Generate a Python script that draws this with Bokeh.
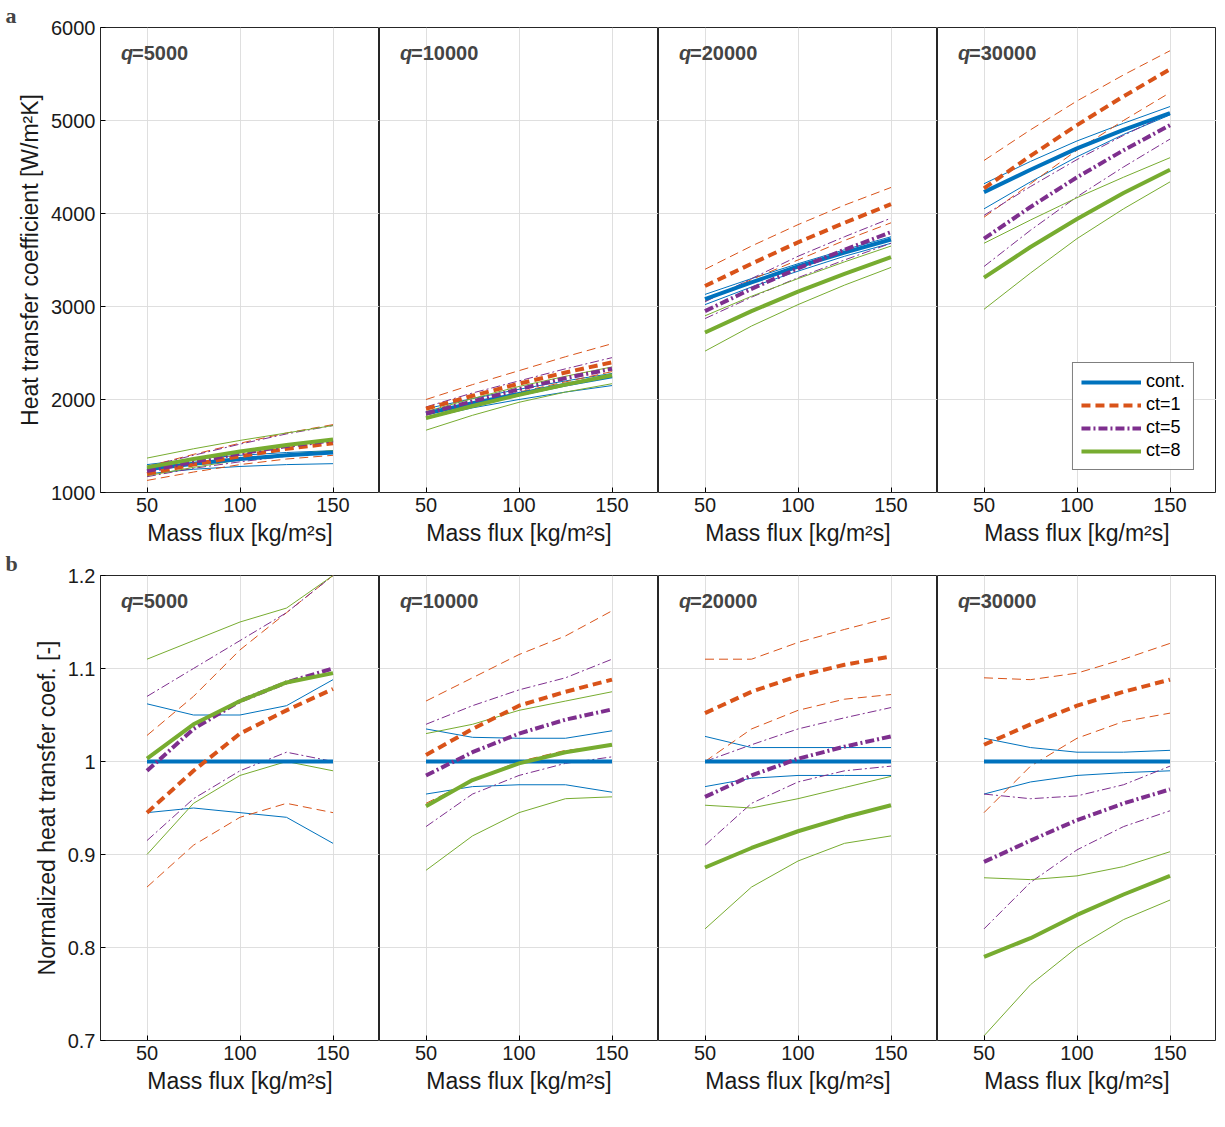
import numpy as np
from bokeh.plotting import figure
from bokeh.layouts import gridplot
from bokeh.models import Range1d, FixedTicker, NumeralTickFormatter, Label, Legend, LegendItem
from bokeh.embed import file_html
from bokeh.resources import INLINE

G = [50, 75, 100, 125, 150]
q_labels = ["5000", "10000", "20000", "30000"]
series = ["cont.", "ct=1", "ct=5", "ct=8"]

# heat transfer coefficient: per q, per series -> (center, upper, lower)
htc = {
    "5000": {
        "cont.": ([1250, 1310, 1360, 1400, 1430], [1300, 1360, 1400, 1430, 1450], [1200, 1250, 1280, 1300, 1310]),
        "ct=1": ([1200, 1300, 1390, 1470, 1530], [1280, 1410, 1530, 1640, 1730], [1130, 1220, 1300, 1360, 1400]),
        "ct=5": ([1230, 1330, 1420, 1500, 1560], [1280, 1400, 1520, 1630, 1720], [1170, 1260, 1330, 1390, 1430]),
        "ct=8": ([1270, 1360, 1440, 1510, 1570], [1370, 1470, 1560, 1640, 1720], [1180, 1270, 1350, 1410, 1450]),
    },
    "10000": {
        "cont.": ([1850, 1960, 2060, 2160, 2250], [1900, 2010, 2110, 2200, 2280], [1800, 1910, 2000, 2080, 2150]),
        "ct=1": ([1900, 2040, 2170, 2290, 2400], [2000, 2160, 2310, 2460, 2600], [1830, 1960, 2080, 2190, 2300]),
        "ct=5": ([1850, 1980, 2110, 2230, 2330], [1920, 2070, 2200, 2330, 2450], [1790, 1920, 2040, 2150, 2250]),
        "ct=8": ([1800, 1930, 2050, 2160, 2260], [1870, 2010, 2140, 2250, 2350], [1670, 1830, 1970, 2080, 2170]),
    },
    "20000": {
        "cont.": ([3080, 3260, 3430, 3580, 3720], [3130, 3300, 3460, 3610, 3750], [3020, 3210, 3380, 3540, 3680]),
        "ct=1": ([3220, 3460, 3690, 3900, 4100], [3400, 3650, 3880, 4090, 4280], [3060, 3290, 3500, 3710, 3900]),
        "ct=5": ([2950, 3190, 3410, 3610, 3800], [3050, 3300, 3540, 3750, 3950], [2870, 3100, 3310, 3500, 3680]),
        "ct=8": ([2720, 2950, 3160, 3350, 3530], [2900, 3110, 3300, 3480, 3650], [2520, 2790, 3020, 3230, 3420]),
    },
    "30000": {
        "cont.": ([4230, 4470, 4700, 4900, 5080], [4320, 4560, 4780, 4970, 5150], [4050, 4340, 4610, 4850, 5060]),
        "ct=1": ([4270, 4620, 4950, 5260, 5550], [4570, 4900, 5210, 5490, 5750], [3960, 4320, 4680, 5000, 5300]),
        "ct=5": ([3730, 4070, 4390, 4680, 4950], [3980, 4290, 4580, 4840, 5080], [3430, 3820, 4180, 4500, 4800]),
        "ct=8": ([3310, 3640, 3940, 4220, 4470], [3680, 3930, 4170, 4390, 4600], [2970, 3360, 3730, 4050, 4340]),
    },
}

# normalized heat transfer coefficient
norm = {
    "5000": {
        "cont.": ([1, 1, 1, 1, 1], [1.062, 1.05, 1.05, 1.06, 1.088], [0.945, 0.95, 0.945, 0.94, 0.912]),
        "ct=1": ([0.945, 0.99, 1.03, 1.055, 1.078], [1.028, 1.07, 1.12, 1.16, 1.2], [0.865, 0.91, 0.94, 0.955, 0.945]),
        "ct=5": ([0.99, 1.035, 1.065, 1.085, 1.1], [1.07, 1.1, 1.13, 1.16, 1.2], [0.915, 0.96, 0.99, 1.01, 1.0]),
        "ct=8": ([1.003, 1.04, 1.065, 1.085, 1.095], [1.11, 1.13, 1.15, 1.165, 1.2], [0.9, 0.955, 0.985, 1.0, 0.99]),
    },
    "10000": {
        "cont.": ([1, 1, 1, 1, 1], [1.035, 1.026, 1.025, 1.025, 1.033], [0.965, 0.973, 0.975, 0.975, 0.967]),
        "ct=1": ([1.007, 1.035, 1.06, 1.075, 1.088], [1.065, 1.09, 1.115, 1.135, 1.162], [0.955, 0.98, 1.0, 1.012, 1.017]),
        "ct=5": ([0.985, 1.01, 1.03, 1.045, 1.056], [1.04, 1.06, 1.077, 1.09, 1.11], [0.93, 0.965, 0.985, 0.998, 1.005]),
        "ct=8": ([0.952, 0.98, 0.998, 1.01, 1.018], [1.03, 1.04, 1.055, 1.065, 1.075], [0.883, 0.92, 0.945, 0.96, 0.962]),
    },
    "20000": {
        "cont.": ([1, 1, 1, 1, 1], [1.027, 1.015, 1.015, 1.015, 1.015], [0.973, 0.982, 0.985, 0.985, 0.985]),
        "ct=1": ([1.052, 1.075, 1.092, 1.104, 1.113], [1.11, 1.11, 1.128, 1.142, 1.155], [1.0, 1.035, 1.055, 1.067, 1.072]),
        "ct=5": ([0.962, 0.985, 1.003, 1.016, 1.027], [1.0, 1.018, 1.035, 1.047, 1.058], [0.91, 0.955, 0.978, 0.99, 0.995]),
        "ct=8": ([0.886, 0.907, 0.925, 0.94, 0.953], [0.953, 0.95, 0.96, 0.972, 0.984], [0.82, 0.865, 0.893, 0.912, 0.92]),
    },
    "30000": {
        "cont.": ([1, 1, 1, 1, 1], [1.025, 1.015, 1.01, 1.01, 1.012], [0.965, 0.978, 0.985, 0.988, 0.99]),
        "ct=1": ([1.018, 1.04, 1.06, 1.075, 1.088], [1.09, 1.088, 1.095, 1.11, 1.127], [0.945, 0.995, 1.025, 1.043, 1.052]),
        "ct=5": ([0.892, 0.915, 0.937, 0.955, 0.97], [0.965, 0.96, 0.963, 0.975, 0.995], [0.82, 0.87, 0.905, 0.93, 0.947]),
        "ct=8": ([0.79, 0.81, 0.835, 0.857, 0.877], [0.875, 0.873, 0.877, 0.887, 0.903], [0.705, 0.76, 0.8, 0.83, 0.851]),
    },
}

colors = {"cont.": "#0072BD", "ct=1": "#D95319", "ct=5": "#7E2F8E", "ct=8": "#77AC30"}
dashes = {"cont.": "solid", "ct=1": "9 5", "ct=5": "9 3 2 3", "ct=8": "solid"}
FONT = "Liberation Sans"

def make_panel(data, q, col, row):
    left = col == 0
    p = figure(frame_width=279, frame_height=465,
               min_border_left=100 if left else 0, min_border_right=0,
               min_border_top=0 if row == 0 else 8, min_border_bottom=0,
               x_range=Range1d(25, 175),
               y_range=Range1d(1000, 6000) if row == 0 else Range1d(0.7, 1.2),
               output_backend="svg", toolbar_location=None,
               title="a" if (left and row == 0) else ("b" if left else " "))
    p.title.text_font = "Liberation Serif"
    p.title.text_font_style = "bold"
    p.title.text_font_size = "22px"
    p.title.offset = -95 if left else 0
    p.title.standoff = 0
    p.title.padding = 0
    p.outline_line_color = "black"
    p.outline_line_alpha = 0.85
    p.background_fill_color = "white"
    p.xaxis.ticker = FixedTicker(ticks=[50, 100, 150])
    p.xaxis.axis_label = "Mass flux [kg/m²s]"
    if row == 0:
        p.yaxis.ticker = FixedTicker(ticks=[1000, 2000, 3000, 4000, 5000, 6000])
        p.yaxis.axis_label = "Heat transfer coefficient [W/m²K]"
    else:
        p.yaxis.ticker = FixedTicker(ticks=[0.7, 0.8, 0.9, 1.0, 1.1, 1.2])
        p.yaxis.formatter = NumeralTickFormatter(format="0.[0]")
        p.yaxis.axis_label = "Normalized heat transfer coef. [-]"
    for ax in (p.xaxis, p.yaxis):
        ax.axis_line_color = None
        ax.major_tick_in = 5
        ax.major_tick_out = 0
        ax.minor_tick_line_color = None
        ax.major_label_text_font = FONT
        ax.major_label_text_font_size = "20px"
        ax.major_label_text_color = "#1a1a1a"
        ax.axis_label_text_font = FONT
        ax.axis_label_text_font_size = "23px"
        ax.axis_label_text_font_style = "normal"
        ax.axis_label_text_color = "#1a1a1a"
    if not left:
        p.yaxis.visible = False
    p.grid.grid_line_color = "#dcdcdc"
    p.grid.grid_line_alpha = 0.9

    centers = {}
    for s in series:
        c, u, l = data[q][s]
        for yv in (u, l):
            p.line(G, yv, line_color=colors[s], line_width=1, line_dash=dashes[s])
    for s in series:
        c = data[q][s][0]
        centers[s] = p.line(G, c, line_color=colors[s], line_width=4, line_dash=dashes[s])

    ytop = 6000 if row == 0 else 1.2
    p.add_layout(Label(x=36, y=ytop, y_offset=-36, text="q", text_font=FONT,
                       text_font_style="bold italic", text_font_size="20px"))
    p.add_layout(Label(x=36, y=ytop, x_offset=11, y_offset=-36, text="=" + q, text_font=FONT,
                       text_font_style="bold", text_font_size="20px"))

    if row == 0 and col == 3:
        legend = Legend(items=[LegendItem(label=s, renderers=[centers[s]]) for s in series],
                        location="bottom_right")
        legend.label_text_font = FONT
        legend.label_text_font_size = "18px"
        legend.label_text_color = "black"
        legend.glyph_width = 60
        legend.border_line_color = "black"
        legend.spacing = 2
        legend.padding = 8
        legend.margin = 22
        p.add_layout(legend)
    return p

grid = []
for row, data in enumerate([htc, norm]):
    grid.append([make_panel(data, q, col, row) for col, q in enumerate(q_labels)])

p = gridplot(grid, toolbar_location=None, merge_tools=False)
open("out.html", "w").write(file_html(p, INLINE))
